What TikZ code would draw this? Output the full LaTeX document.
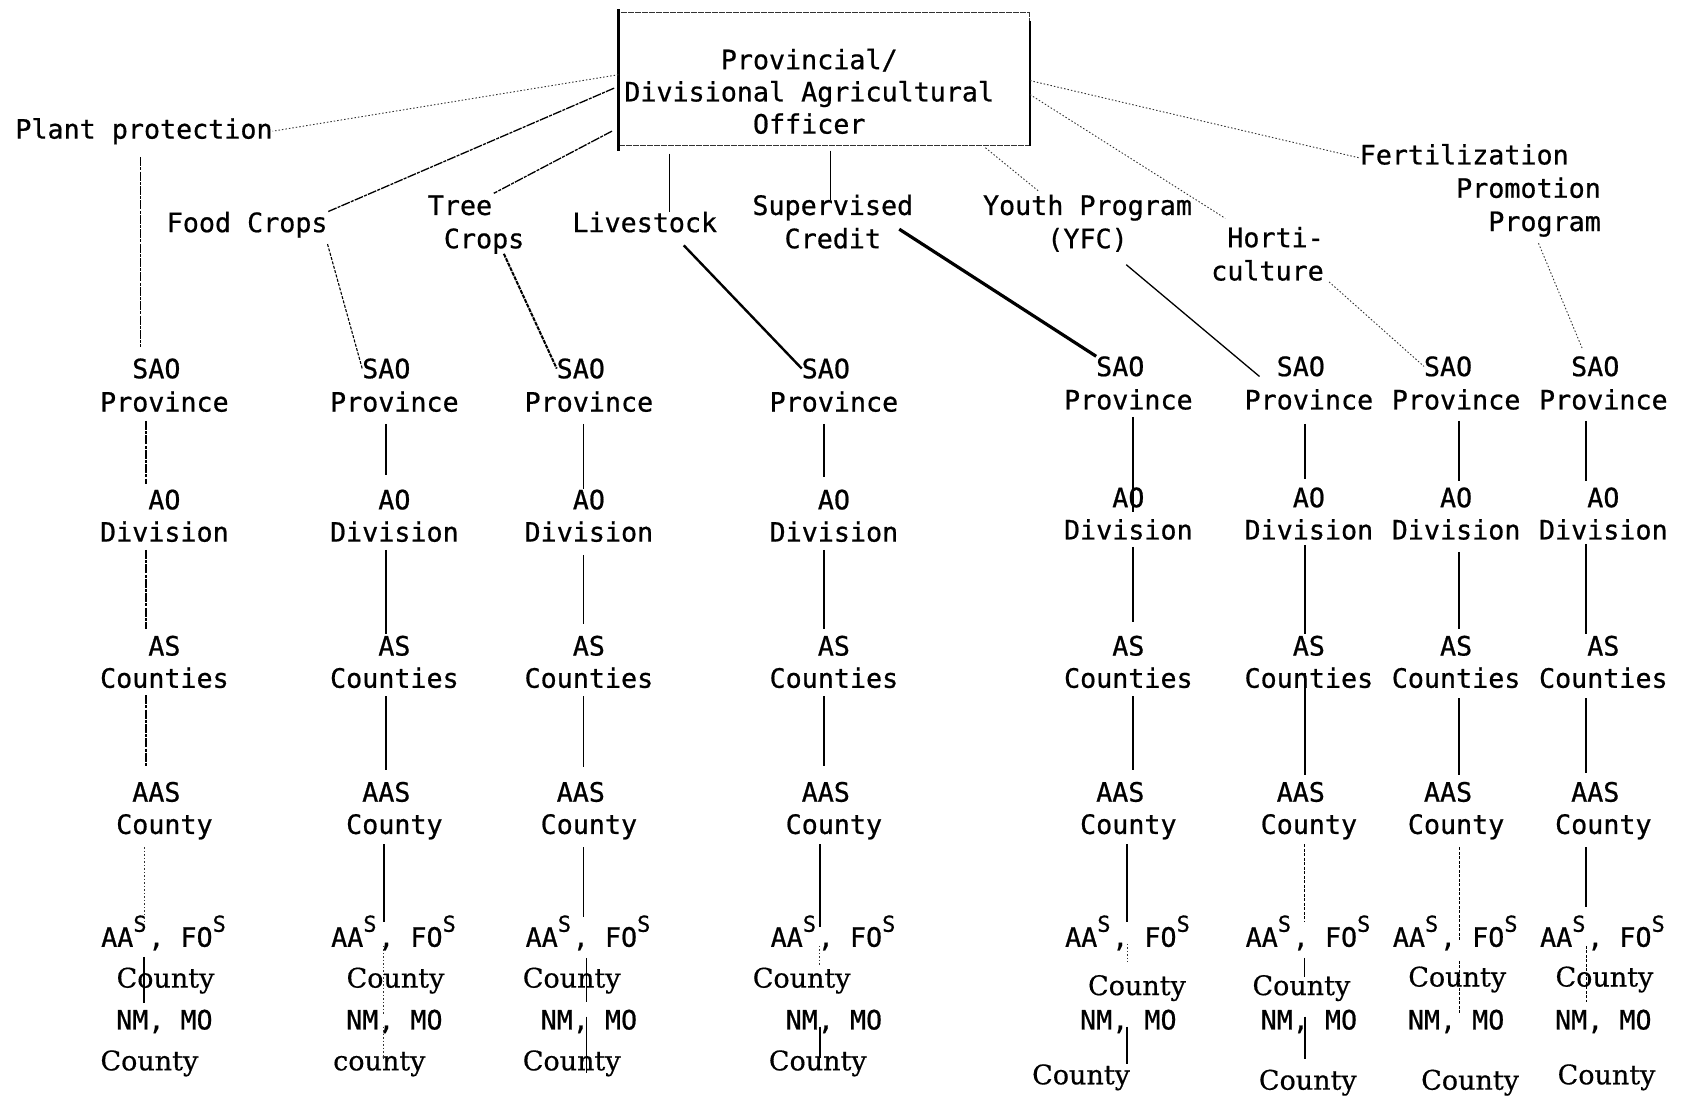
\documentclass[tikz,border=0pt]{standalone}
\usepackage{fontspec}
\usetikzlibrary{calc}
\newfontfamily\twfont[FakeBold=0.7]{DejaVu Sans Mono}
\newfontfamily\cfont[FakeBold=0.5]{DejaVu Serif}
\newcommand\sS{\raisebox{15pt}{\makebox[15pt][l]{\fontsize{22}{22}\selectfont S}}}
\newcommand\colnodes[8]{%
  \node[tw] (s#1)   at (#2-7.5,352+#3) {SAO};
  \node[tw] (p#1)   at (#2,383+#3) {Province};
  \node[tw] (a#1)   at (#2,474+#3) {AO};
  \node[tw] (d#1)   at (#2,504+#3) {Division};
  \node[tw] (as#1)  at (#2,610) {AS};
  \node[tw] (cs#1)  at (#2,640) {Counties};
  \node[tw] (aas#1) at (#2-7.5,746) {AAS};
  \node[tw] (cy#1)  at (#2,776) {County};
  \node[tw] (f#1)   at (#2,881) {AA\sS, FO\sS};
  \node[ct] (k#1)   at (#4,#5) {County};
  \node[tw] (n#1)   at (#2,958) {NM, MO};
  \node[ct] (b#1)   at (#6,#7) {#8};
}
\newcommand\seg[6]{\draw[#1,shorten <=#5pt,shorten >=#6pt] (#3.south -| #2) -- (#4.north -| #2);}
\begin{document}
\begin{tikzpicture}[x=1.0746pt,y=-1.0746pt,
  tw/.style={font=\twfont\fontsize{26.7}{33.3}\selectfont, inner sep=0pt, outer sep=0pt, anchor=base},
  ct/.style={font=\cfont\fontsize{27}{33}\selectfont, inner sep=0pt, outer sep=0pt, anchor=base},
  lab/.style={tw, align=center},
  ln/.style={line width=1.8pt},
  lnm/.style={line width=1.3pt},
  lnt/.style={line width=1.2pt},
  lnk/.style={line width=2.4pt},
  lnkk/.style={line width=3.2pt},
  lnw/.style={line width=2pt, dash pattern=on 4pt off 1pt},
  lnr/.style={line width=1.3pt, dash pattern=on 9pt off 1.2pt on 3pt off 1.2pt},
  lnd/.style={line width=1.1pt, dash pattern=on 3pt off 1.5pt},
  lnf/.style={line width=0.9pt, dash pattern=on 1.5pt off 2pt, black!80}]
\useasboundingbox (0,0) rectangle (1568,1021);

% top box
\node[draw=black!80, line width=1pt, dash pattern=on 6pt off 1pt,
      minimum width=410.5pt, minimum height=132.2pt, inner sep=0pt,
      label={[tw, align=center, font=\twfont\fontsize{26.7}{32.2}\selectfont,
              anchor=center, xshift=-15pt, yshift=-12.4pt]center:{Provincial/\\Divisional Agricultural\\Officer}}]
      (box) at (767,73.5) {};
\draw[line width=2.4pt] ($(box.north west)+(0,-3)$) -- ($(box.south west)+(0,5)$);
\draw[line width=2.2pt] ($(box.north east)+(0,8)$) -- (box.south east);

% programme labels (base = last line)
\node[lab] (plant) at (134,129) {Plant protection};
\node[lab] (food) at (230,216) {Food Crops};
\node[tw, align=left] (tree) at (443,231) {Tree\\\hphantom{x}Crops};
\node[lab] (live) at (600,216) {Livestock};
\node[lab] (sup) at (775,231) {Supervised\\Credit};
\node[lab] (youth) at (1012,231) {Youth Program\\(YFC)};
\node[tw, align=right] (hort) at (1179.5,261) {Horti-\\culture};
\node[tw, align=right] (fert) at (1377.5,215) {Fertilization\hphantom{xx}\\Promotion\\Program};

% columns
\colnodes{1}{153}{0}{154}{919}{139}{996}{County}
\colnodes{2}{367}{0}{368}{919}{353}{996}{county}
\colnodes{3}{548}{0}{532}{919}{532}{996}{County}
\colnodes{4}{776}{0}{746}{919}{761}{996}{County}
\colnodes{5}{1050}{-2}{1058}{926}{1006}{1009}{County}
\colnodes{6}{1218}{-2}{1211}{926}{1217}{1014}{County}
\colnodes{7}{1355}{-2}{1356}{918}{1368}{1014}{County}
\colnodes{8}{1492}{-2}{1493}{918}{1495}{1009}{County}

% box to labels
\draw[lnf] ($(box.west)+(0,-4)$) -- (plant.east);
\draw[lnr] ($(box.west)+(-4,8.5)$) -- (food.north east);
\draw[lnr] ($(box.west)+(-6,48.5)$) -- ($(tree.north)+(16.5,-2)$);
\coordinate (vl) at (623,0);
\draw[lnm, shorten <=8pt] (box.south -| vl) -- (live.north -| vl);
\coordinate (vs) at (773,0);
\draw[lnm, shorten <=5pt, shorten >=-5pt] (box.south -| vs) -- (sup.north -| vs);
\draw[lnf] ($(box.south)+(150,2)$) -- ($(youth.north west)+(52,-3)$);
\draw[lnf] ($(box.east)+(0,14.5)$) -- ($(hort.north west)+(13,-8)$);
\draw[lnf] ($(box.east)+(0,1.5)$) -- ($(fert.north west)+(0,13)$);

% labels to SAO
\coordinate (v1) at (131,0);
\draw[lnr, shorten <=13pt, shorten >=11.6pt] (plant.south -| v1) -- (s1.north -| v1);
\draw[lnd] ($(food.south east)+(0,6)$) -- (s2.west);
\draw[lnw] ($(tree.south east)+(-19,0)$) -- (s3.west);
\draw[lnk] ($(live.south east)+(-31,12)$) -- (s4.west);
\draw[lnkk] ($(sup.east)+(-13,7)$) -- (s5.north west);
\draw[lnm] ($(youth.south)+(36,12)$) -- ($(s6.south west)+(-16,0)$);
\draw[lnf] ($(hort.south east)+(5,1)$) -- (s7.west);
\draw[lnf] ($(fert.south east)+(-58,6)$) -- ($(s8.north)+(-12,-7)$);

% vertical lines
\coordinate (x1) at (136,0); \coordinate (x1b) at (134,0);
\coordinate (x2) at (359,0); \coordinate (x2b) at (357,0);
\coordinate (x3) at (543,0); \coordinate (x3b) at (546,0);
\coordinate (x4) at (767,0); \coordinate (x4b) at (763,0);
\coordinate (x5) at (1054,0); \coordinate (x5b) at (1049,0);
\coordinate (x6) at (1214,0);
\coordinate (x7) at (1358,0);
\coordinate (x8) at (1476,0);

\seg{lnr}{x1}{p1}{a1}{9}{5.6}
\seg{lnr}{x1}{d1}{as1}{8}{6.6}
\seg{lnr}{x1}{cs1}{aas1}{7}{15.6}
\seg{lnf}{x1b}{cy1}{f1}{8}{-6.8}
\seg{ln}{x1b}{f1}{n1}{6.5}{7}

\seg{ln}{x2}{p2}{a2}{12}{14.6}
\seg{ln}{x2}{d2}{as2}{8}{1.6}
\seg{ln}{x2}{cs2}{aas2}{8}{11.6}
\seg{ln}{x2b}{cy2}{f2}{5}{-6.8}
\seg{lnf}{x2b}{f2}{n2}{-4.5}{-5}
\seg{lnf}{x2b}{n2}{b2}{-6.5}{-7.3}

\seg{ln}{x3}{p3}{a3}{12}{0.6}
\seg{ln}{x3}{d3}{as3}{13}{11.6}
\seg{ln}{x3}{cs3}{aas3}{8}{14.6}
\seg{ln}{x3}{cy3}{f3}{8}{-1.8}
\seg{lnt}{x3b}{f3}{n3}{7.5}{8}
\seg{lnt}{x3b}{n3}{b3}{-16.5}{-22.3}

\seg{ln}{x4}{p4}{a4}{12}{12.6}
\seg{ln}{x4}{d4}{as4}{8}{6.6}
\seg{ln}{x4}{cs4}{aas4}{8}{15.6}
\seg{ln}{x4b}{cy4}{f4}{5}{-11.8}
\seg{lnf}{x4b}{f4}{k4}{-4.5}{0.7}
\seg{lnt}{x4b}{n4}{b4}{-6.5}{-7.3}

\seg{ln}{x5}{p5}{a5}{7}{-24.4}
\seg{ln}{x5}{d5}{as5}{7}{13.6}
\seg{ln}{x5}{cs5}{aas5}{8}{11.6}
\seg{ln}{x5b}{cy5}{f5}{5}{-6.8}
\seg{lnf}{x5b}{f5}{k5}{-6.5}{12.7}
\seg{ln}{x5b}{n5}{b5}{-6.5}{0.7}

\seg{ln}{x6}{p6}{a6}{14}{8.6}
\seg{ln}{x6}{d6}{as6}{5}{1.6}
\seg{ln}{x6}{cs6}{aas6}{-15}{6.6}
\seg{lnd}{x6}{cy6}{f6}{5}{-6.8}
\seg{lnt}{x6}{f6}{k6}{7.5}{-2.3}
\seg{ln}{x6}{n6}{b6}{-16.5}{10.7}

\seg{ln}{x7}{p7}{a7}{11}{6.6}
\seg{ln}{x7}{d7}{as7}{12}{6.6}
\seg{ln}{x7}{cs7}{aas7}{10}{6.6}
\seg{lnd}{x7}{cy7}{f7}{8}{-24.8}
\seg{lnd}{x7}{f7}{n7}{10.5}{-5}

\seg{lnk}{x8}{p8}{a8}{11}{6.6}
\seg{ln}{x8}{d8}{as8}{4}{1.6}
\seg{ln}{x8}{cs8}{aas8}{10}{8.6}
\seg{ln}{x8}{cy8}{f8}{8}{8.2}
\seg{lnd}{x8}{f8}{k8}{-4.5}{-35.3}
\end{tikzpicture}
\end{document}
